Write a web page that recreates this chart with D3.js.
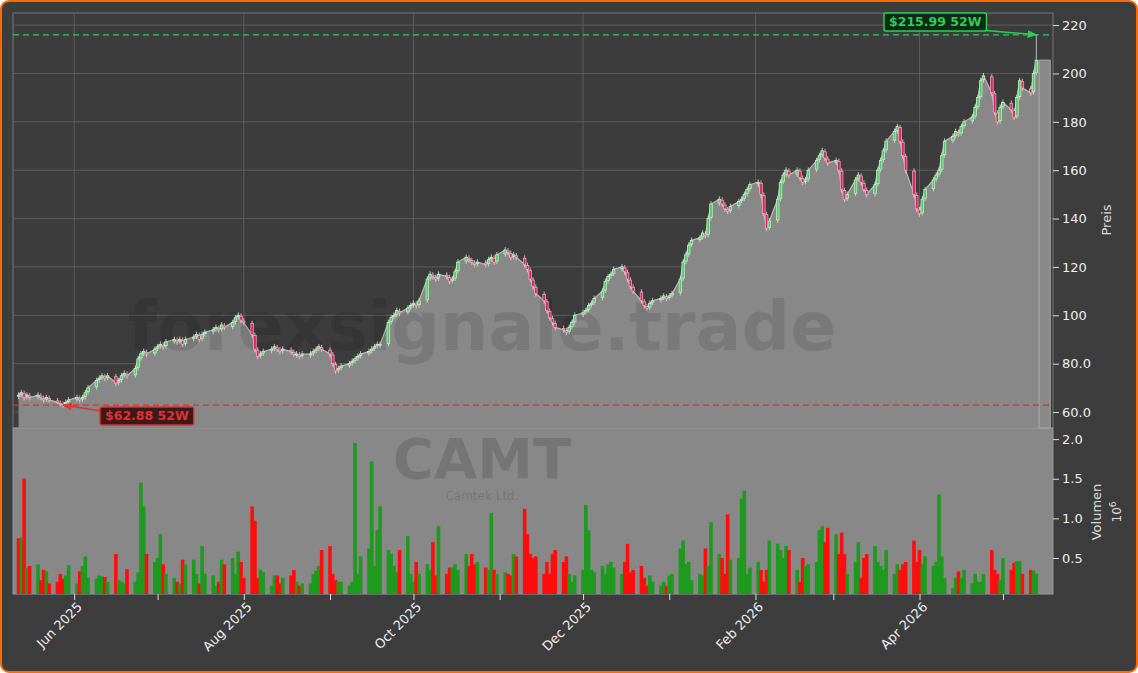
<!DOCTYPE html>
<html><head><meta charset="utf-8">
<script src="https://cdn.jsdelivr.net/npm/d3@7"></script>
<style>
body{margin:0;background:#fff;}
svg{display:block;font-family:"DejaVu Sans",sans-serif;}
</style></head>
<body><svg width="1138" height="673"></svg>
<script>
// daily closes (5 per trading week, starting Mon 12 May 2025)
const closes = [
  67,68,66,67,66, 67,66,65,66,65, 64,63.5,63,64,65, 66,65,66,68,70,
  73,74,75,74,75, 72,73,75,76,75, 78,82,84,85,84, 86,87,88,87,89,
  90,89,90,88,90, 91,92,90,92,93, 94,95,94,96,95, 97,99,100,98,97,
  92,86,83,84,85, 86,87,86,85,86, 85,84,84,83,84, 84,85,86,87,86,
  84,80,77,78,79, 80,81,82,83,84, 85,86,87,88,88, 97,99,100,102,101,
  103,104,105,104,106, 115,117,116,115,117, 116,114,115,118,122, 124,123,122,121,122,
  121,123,124,122,125, 127,126,124,125,124, 121,119,115,112,109, 106,102,99,97,95,
  94,93,95,97,100, 101,102,104,105,107, 110,114,116,117,119, 120,118,115,112,110,
  106,104,103,105,106, 107,108,107,108,109, 115,122,125,129,131, 132,134,133,140,146,
  148,146,144,143,145, 147,148,150,152,154, 155,150,142,136,139, 148,155,158,160,158,
  160,157,155,156,160, 164,166,168,165,163, 164,160,152,148,150, 156,158,155,152,150,
  154,160,164,168,172, 176,178,172,166,160, 150,144,142,148,152, 156,158,160,166,172,
  174,176,175,178,180, 182,186,190,197,199, 192,184,180,186,188, 185,182,190,197,194,
  192,200,205.5
];
// daily volume, millions
const volumes = [
  0.75,0.76,1.5,0.38,0.4, 0.42,0.22,0.35,0.33,0.18, 0.2,0.3,0.24,0.28,0.41, 0.18,0.33,0.4,0.52,0.25,
  0.24,0.28,0.27,0.26,0.2, 0.55,0.22,0.2,0.18,0.36, 0.2,0.32,1.45,1.15,0.55, 0.45,0.5,0.8,0.42,0.3,
  0.25,0.2,0.18,0.48,0.42, 0.48,0.3,0.18,0.65,0.3, 0.28,0.15,0.2,0.48,0.42, 0.5,0.3,0.58,0.45,0.25,
  1.15,0.97,0.25,0.35,0.32, 0.15,0.28,0.28,0.18,0.25, 0.28,0.35,0.2,0.15,0.18, 0.18,0.3,0.34,0.4,0.6,
  0.65,0.3,0.22,0.2,0.2, 0.15,0.2,1.95,0.3,0.52, 0.62,1.72,0.4,0.85,1.15, 0.6,0.55,0.4,0.32,0.6,
  0.78,0.3,0.2,0.45,0.3, 0.42,0.35,0.7,0.28,0.9, 0.3,0.38,0.38,0.42,0.35, 0.55,0.4,0.55,0.42,0.45,
  0.38,0.35,1.07,0.35,0.3, 0.32,0.3,0.28,0.55,0.52, 1.12,0.8,0.55,0.5,0.52, 0.3,0.45,0.3,0.55,0.6,
  0.45,0.52,0.3,0.2,0.28, 0.35,1.17,0.85,0.35,0.32, 0.4,0.3,0.42,0.45,0.38, 0.3,0.45,0.68,0.32,0.35,
  0.4,0.25,0.15,0.28,0.2, 0.15,0.2,0.15,0.28,0.3, 0.62,0.72,0.42,0.45,0.22, 0.3,0.28,0.62,0.4,0.95,
  0.55,0.5,0.3,1.05,0.48, 0.5,1.25,1.35,0.3,0.38, 0.45,0.35,0.2,0.35,0.72, 0.68,0.6,0.5,0.65,0.6,
  0.35,0.2,0.5,0.4,0.42, 0.45,0.85,0.9,0.7,0.88, 0.8,0.55,0.82,0.55,0.3, 0.45,0.7,0.25,0.5,0.55,
  0.65,0.45,0.4,0.35,0.6, 0.3,0.42,0.35,0.42,0.45, 0.72,0.45,0.6,0.42,0.52, 0.4,0.45,1.3,0.52,0.25,
  0.12,0.25,0.33,0.25,0.35, 0.18,0.3,0.2,0.2,0.3, 0.6,0.35,0.3,0.22,0.5, 0.35,0.44,0.46,0.46,0.3,
  0.35,0.34,0.3
];
const lowLabel = {price: 62.88, dayIndex: 12, text: "$62.88 52W"};
const highLabel = {price: 215.99, dayIndex: 262, text: "$215.99 52W"};
const priceTicks = [60,80,100,120,140,160,180,200,220];
const volTicks = [0.5,1.0,1.5,2.0];

// trading dates
const dates = [];
let d = new Date(2025,4,12);
while (dates.length < closes.length) {
  if (d.getDay() !== 0 && d.getDay() !== 6) dates.push(new Date(d));
  d = d3.timeDay.offset(d, 1);
}
const data = closes.map((c, i) => {
  const o = i === 0 ? c - 0.5 : closes[i-1] + (c > closes[i-1] ? 0.4 : -0.4) ;
  return {date: dates[i], open: o, close: c,
    high: Math.max(o,c) + (i === 262 ? 10.5 : 1.2),
    low: Math.min(o,c) - 1.2, vol: volumes[i]};
});

const svg = d3.select("svg");
const left = 13, right = 1053, pTop = 13, pBot = 428, vBot = 594;

svg.append("rect").attr("x",1).attr("y",1).attr("width",1136).attr("height",671)
  .attr("rx",8).attr("fill","#3d3d3d").attr("stroke","#ff6a00").attr("stroke-width",2);

const x = d3.scaleTime().domain([new Date(2025,4,10), new Date(2026,4,19)]).range([left, right]);
const y = d3.scaleLinear().domain([53.4, 225]).range([pBot, pTop]);
const yv = d3.scaleLinear().domain([0.046, 2.14]).range([vBot, pBot]);

svg.append("rect").attr("x",left).attr("y",pTop).attr("width",right-left).attr("height",pBot-pTop)
  .attr("fill","#3c3c3c").attr("stroke","#777");
svg.append("rect").attr("x",left).attr("y",pBot).attr("width",right-left).attr("height",vBot-pBot)
  .attr("fill","#888").attr("stroke","#999");

const months = d3.timeMonth.range(new Date(2025,5,1), new Date(2026,5,1));
const grid = svg.append("g").attr("stroke","#666").attr("stroke-width",0.8);
months.filter((m,i)=>i%2===0).forEach(m => grid.append("line").attr("x1",x(m)).attr("x2",x(m)).attr("y1",pTop).attr("y2",pBot));
priceTicks.forEach(t => grid.append("line").attr("x1",left).attr("x2",right).attr("y1",y(t)).attr("y2",y(t)));

// area
const areaPts = data.map(p=>({date:p.date, v:p.close}));
const endDay = d3.timeDay.offset(data[data.length-1].date, 1);
const areaEnd = new Date(2026,4,18);
areaPts.push({date: endDay, v: 205.5});
areaPts.push({date: areaEnd, v: 205.5});
svg.append("path").datum(areaPts)
  .attr("d", d3.area().x(p=>x(p.date)).y0(pBot).y1(p=>y(p.v)))
  .attr("fill","#888").attr("stroke","none");
svg.append("path").datum(data)
  .attr("d", d3.line().x(p=>x(p.date)).y(p=>y(p.close)))
  .attr("fill","none").attr("stroke","#bbb").attr("stroke-width",1.2);
svg.append("rect").attr("x",x(endDay)).attr("y",y(205.5))
  .attr("width",x(areaEnd)-x(endDay))
  .attr("height",pBot-y(205.5)).attr("fill","none").attr("stroke","#aaa");

// watermark over area
svg.append("text").attr("x",482).attr("y",350).attr("text-anchor","middle").attr("font-size",68)
  .attr("font-weight","bold").attr("fill","#000").attr("opacity",0.1).text("forexsignale.trade");

// candles
const cw = 2.6;
const cg = svg.append("g");
data.forEach(p => {
  const up = p.close >= p.open;
  cg.append("line").attr("x1",x(p.date)).attr("x2",x(p.date)).attr("y1",y(p.high)).attr("y2",y(p.low))
    .attr("stroke","#ddd").attr("stroke-width",0.8);
  cg.append("rect").attr("x",x(p.date)-cw/2).attr("width",cw)
    .attr("y",y(Math.max(p.open,p.close))).attr("height",Math.max(1,Math.abs(y(p.open)-y(p.close))))
    .attr("fill", up ? "#4fcf6a" : "#e0245e").attr("stroke", up ? "#c8f5c8" : "#f4b0c4").attr("stroke-width",0.7);
});

// volume watermark
svg.append("text").attr("x",482).attr("y",478).attr("text-anchor","middle").attr("font-size",56)
  .attr("font-weight","bold").attr("fill","#000").attr("opacity",0.13).text("CAMT");
svg.append("text").attr("x",482).attr("y",500).attr("text-anchor","middle").attr("font-size",12)
  .attr("fill","#000").attr("opacity",0.13).text("Camtek Ltd.");

// volume bars
const bw = 3.6;
svg.append("g").selectAll("rect").data(data).join("rect")
  .attr("x",p=>x(p.date)-bw/2).attr("width",bw)
  .attr("y",p=>yv(p.vol)).attr("height",p=>vBot-yv(p.vol))
  .attr("fill",(p,i)=> i!==0 && p.close >= closes[i-1] ? "#1e9a1e" : "#ff0d0d");

// 52W lines
const defs = svg.append("defs");
["#e03030","#2ecc5a"].forEach(c => {
  defs.append("marker").attr("id","ar"+c.slice(1)).attr("viewBox","0 0 10 10").attr("refX",9).attr("refY",5)
    .attr("markerWidth",6).attr("markerHeight",6).attr("orient","auto")
    .append("path").attr("d","M0,1 L10,5 L0,9 z").attr("fill",c);
});
function level(lbl, color, fill, bx, by, tx, ty) {
  svg.append("line").attr("x1",left).attr("x2",right).attr("y1",y(lbl.price)).attr("y2",y(lbl.price))
    .attr("stroke",color).attr("stroke-width",1.3).attr("stroke-dasharray","6,4");
  const px = x(data[lbl.dayIndex].date), py = y(lbl.price);
  svg.append("line").attr("x1",tx).attr("y1",ty).attr("x2",px).attr("y2",py)
    .attr("stroke",color).attr("stroke-width",1.6).attr("marker-end","url(#ar"+color.slice(1)+")");
  const box = svg.append("rect");
  const t = svg.append("text").attr("x",bx+5).attr("y",by+13).attr("font-size",12.5).attr("font-weight","bold")
    .attr("fill",color).text(lbl.text);
  const w = t.node().getComputedTextLength();
  box.attr("x",bx).attr("y",by).attr("width",w+10).attr("height",18)
    .attr("rx",2).attr("fill",fill).attr("stroke",color).attr("stroke-width",1.5);
}
level(lowLabel, "#e03030", "#3a1a1a", 100, 407, 101, 411);
level(highLabel, "#2ecc5a", "#0f2a15", 884, 13, 980, 30);

// axes
const pa = svg.append("g").attr("transform",`translate(${right},0)`)
  .call(d3.axisRight(y).tickValues(priceTicks).tickFormat(v => v < 100 ? v.toFixed(1) : v).tickSizeOuter(0));
const va = svg.append("g").attr("transform",`translate(${right},0)`)
  .call(d3.axisRight(yv).tickValues(volTicks).tickFormat(d3.format(".1f")).tickSizeOuter(0));
const xa = svg.append("g").attr("transform",`translate(0,${vBot})`)
  .call(d3.axisBottom(x).tickValues(months).tickFormat((m,i)=> i%2===0 ? d3.timeFormat("%b %Y")(m) : "").tickSizeOuter(0));
[pa,va,xa].forEach(a => {
  a.select(".domain").remove();
  a.selectAll("line").attr("stroke","#ddd");
  a.selectAll("text").attr("fill","#eee").attr("font-size",13).attr("font-family","DejaVu Sans");
});
xa.selectAll("text").attr("text-anchor","end").attr("dx","-0.3em").attr("dy","0.5em")
  .attr("transform","rotate(-45)");

svg.append("text").attr("transform","translate(1111,220) rotate(-90)").attr("text-anchor","middle")
  .attr("fill","#ddd").attr("font-size",13).text("Preis");
svg.append("text").attr("transform","translate(1101,512) rotate(-90)").attr("text-anchor","middle")
  .attr("fill","#ddd").attr("font-size",13).text("Volumen");
const e = svg.append("text").attr("transform","translate(1121,512) rotate(-90)").attr("text-anchor","middle")
  .attr("fill","#ddd").attr("font-size",12);
e.append("tspan").text("10");
e.append("tspan").attr("dy",-5).attr("font-size",9).text("6");
</script></body></html>
